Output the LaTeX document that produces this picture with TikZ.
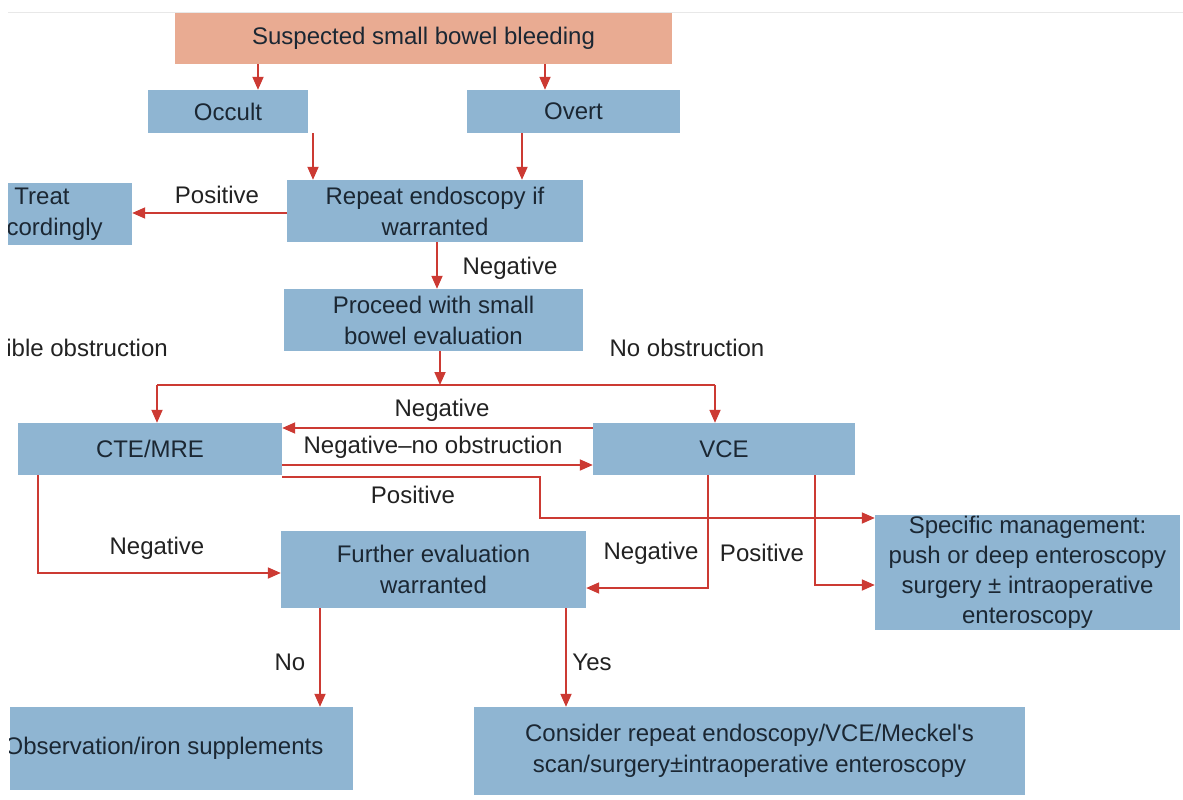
\documentclass[tikz,border=0pt]{standalone}
\usepackage{fontspec}
\setmainfont{Liberation Sans}[Ligatures=TeXOff]
\usetikzlibrary{arrows.meta}
\definecolor{boxblue}{HTML}{8FB5D2}
\definecolor{salmon}{HTML}{E9AB92}
\definecolor{arrowred}{HTML}{CC3A33}
\definecolor{boxtext}{HTML}{1B2733}
\definecolor{labeltext}{HTML}{222222}
\newcommand\flowfont{\fontsize{24}{31}\selectfont}
\begin{document}
\begin{tikzpicture}[x=1pt,y=-1pt,
  box/.style={fill=boxblue, inner sep=0pt, align=center, text=boxtext, font=\flowfont},
  lbl/.style={inner sep=0pt, text=labeltext, font=\flowfont},
  arr/.style={draw=arrowred, line width=1.8pt, -{Triangle[length=13pt,width=11pt]}},
  seg/.style={draw=arrowred, line width=1.8pt}]
\useasboundingbox (0,0) rectangle (1183,800);
\fill[white] (0,0) rectangle (1183,800);
% the drawing area starts a little right of the page edge
\clip (8,0) rectangle (1183,800);
\draw[gray!18, line width=1pt] (0,13) -- (1183,13);

% boxes
\node[box, fill=salmon, minimum width=497pt, minimum height=51pt] (top) at (423.5,38.5) {Suspected small bowel bleeding};
\node[box, minimum width=160pt, minimum height=43pt] (occult) at (228,111.5) {Occult};
\node[box, minimum width=213pt, minimum height=43pt] (overt) at (573.5,111.5) {Overt};
\node[box, minimum width=296pt, minimum height=62pt] (repeat) at (435,211) {Repeat endoscopy if\\warranted};
\node[box, minimum width=180pt, minimum height=62pt] (treat) at (42,214) {Treat\\accordingly};
\node[box, minimum width=299pt, minimum height=62pt] (proceed) at (433.5,320) {Proceed with small\\bowel evaluation};
\node[box, minimum width=264pt, minimum height=52pt] (cte) at (150,449) {CTE/MRE};
\node[box, minimum width=262pt, minimum height=52pt] (vce) at (724,449) {VCE};
\node[box, minimum width=305pt, minimum height=115pt, font=\fontsize{24}{30}\selectfont] (spec) at (1027.5,572.5) {Specific management:\\push or deep enteroscopy\\surgery ± intraoperative\\enteroscopy};
\node[box, minimum width=305pt, minimum height=77pt] (further) at (433.5,569.5) {Further evaluation\\warranted};
\node[box, minimum width=343pt, minimum height=83pt] (obs) at (181.5,748.5) {};
\begin{scope}
  \clip (obs.south west) rectangle (obs.north east);
  \node[lbl, text=boxtext] (obstext) at (164,748.5) {Observation/iron supplements};
\end{scope}
\node[box, minimum width=551pt, minimum height=88pt] (consider) at (749.5,751) {Consider repeat endoscopy/VCE/Meckel's\\scan/surgery±intraoperative enteroscopy};

% junction below the evaluation box
\coordinate (split) at (440,385);

% connectors
\draw[arr] (top.south -| 258,0) -- (occult.north -| 258,0);
\draw[arr] (top.south -| 545,0) -- (overt.north -| 545,0);
\draw[arr] (occult.south -| 313,0) -- (repeat.north -| 313,0);
\draw[arr] (overt.south -| 522,0) -- (repeat.north -| 522,0);
\draw[arr] (repeat.west |- 0,213) -- (treat.east |- 0,213);
\draw[arr] (repeat.south -| 437,0) -- (proceed.north -| 437,0);
\draw[arr] (proceed.south -| split) -- (split);
\draw[seg] (split -| 157,0) -- (split -| 715,0);
\draw[arr] (split -| 157,0) -- (cte.north -| 157,0);
\draw[arr] (split -| 715,0) -- (vce.north -| 715,0);
\draw[arr] (vce.west |- 0,428) -- (cte.east |- 0,428);
\draw[arr] (cte.east |- 0,465) -- (vce.west |- 0,465);
\draw[arr] (cte.east |- 0,477) -| (540,518) -- (spec.west |- 0,518);
\draw[arr] (cte.south -| 38,0) |- (further.west |- 0,573);
\draw[arr] (vce.south -| 708,0) |- (further.east |- 0,588);
\draw[arr] (vce.south -| 815,0) |- (spec.west |- 0,585);
\draw[arr] (further.south -| 320,0) -- (obs.north -| 320,0);
\draw[arr] (further.south -| 566,0) -- (consider.north -| 566,0);

% labels
\node[lbl] (l1) at (217,195) {Positive};
\node[lbl] (l2) at (510,268) {Negative};
\node[lbl, anchor=east] (l3) at (168,348) {Possible obstruction};
\node[lbl] (l4) at (687,348) {No obstruction};
\node[lbl] (l5) at (442,410) {Negative};
\node[lbl] (l6) at (433,447) {Negative–no obstruction};
\node[lbl] (l7) at (413,495) {Positive};
\node[lbl] (l8) at (157,548) {Negative};
\node[lbl] (l9) at (651,553) {Negative};
\node[lbl] (l10) at (762,553) {Positive};
\node[lbl] (l11) at (290,662) {No};
\node[lbl] (l12) at (592,662) {Yes};
\end{tikzpicture}
\end{document}
